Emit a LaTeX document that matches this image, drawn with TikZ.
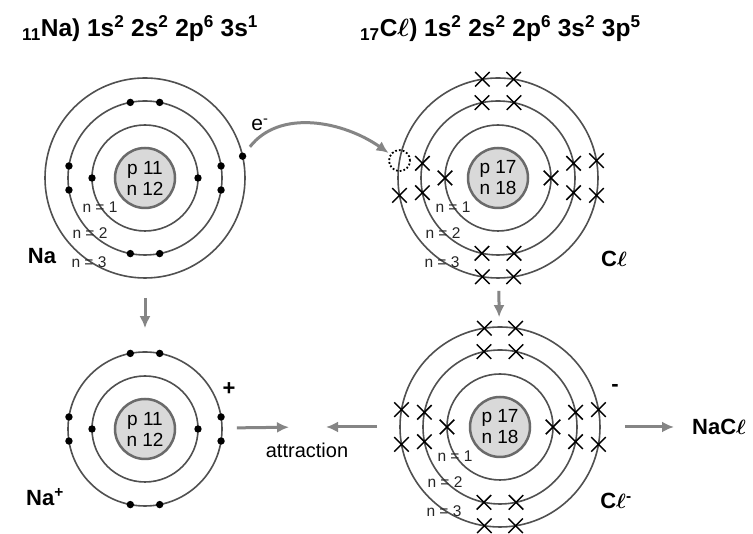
\documentclass[tikz,border=0pt]{standalone}
\usepackage{fontspec}
\setmainfont{Liberation Sans}
\usetikzlibrary{shapes.misc,arrows.meta}
\definecolor{shellgray}{HTML}{505050}
\definecolor{coregray}{HTML}{6A6A6A}
\definecolor{corefill}{HTML}{D9D9D9}
\definecolor{arrowgray}{HTML}{858585}
\newcommand\chl{C{\boldmath$\ell$}}

\begin{document}
\begin{tikzpicture}[x=1pt,y=1pt,
  shell/.style = {circle,draw=shellgray,line width=1.6pt,inner sep=0pt},
  nucleus/.style = {circle,draw=coregray,fill=corefill,line width=2.5pt,
        minimum size=60pt,inner sep=0pt,align=center,
        font=\fontsize{19}{21}\selectfont},
  level/.style = {font=\fontsize{15.5}{16}\selectfont,text=black!85,inner sep=0pt},
  dot/.style = {circle,fill=black,inner sep=0pt,minimum size=7.4pt},
  xmark/.style = {cross out,draw=black,line width=1.5pt,inner sep=0pt,
        minimum size=13pt},
  hole/.style = {circle,draw,dotted,line width=1.8pt,inner sep=0pt,
        minimum size=21pt},
  config/.style = {font=\bfseries\fontsize{24.5}{26}\selectfont,inner sep=0pt},
  atomname/.style = {font=\bfseries\fontsize{22}{24}\selectfont,inner sep=0pt},
  flow/.style = {draw=arrowgray,line width=3pt,-{Latex[length=12pt,width=11pt]}}]
 \path[fill=white,use as bounding box] (0,0) rectangle (753,534);

 % electron configurations
 \node[config,anchor=base west] (cfg-na) at (22,497)
   {\textsubscript{11}Na) 1s\textsuperscript{2} 2s\textsuperscript{2}
    2p\textsuperscript{6} 3s\textsuperscript{1}};
 \node[config,anchor=base west] (cfg-cl) at (360,497)
   {\textsubscript{17}\chl) 1s\textsuperscript{2} 2s\textsuperscript{2}
    2p\textsuperscript{6} 3s\textsuperscript{2} 3p\textsuperscript{5}};

 % sodium atom
 \node[nucleus] (na) at (145,356) {p 11\\n 12};
 \node[shell,minimum size=106pt] (na-1) at (na.center) {};
 \node[shell,minimum size=154pt] (na-2) at (na.center) {};
 \node[shell,minimum size=200pt] (na-3) at (na.center) {};
 \foreach \a in {0,180} \fill ([shift={(\a:53)}]na.center) circle (3.7);
 \foreach \a in {9,-9,79,101,171,189,259,281}
   \fill ([shift={(\a:77)}]na.center) circle (3.7);
 \node[dot] (na-e) at ([shift={(12.6:100)}]na.center) {};
 \node[level] (na-n1) at ([shift={(-45,-29)}]na.center) {n = 1};
 \node[level] (na-n2) at ([shift={(-55,-55)}]na.center) {n = 2};
 \node[level] (na-n3) at ([shift={(-56,-84)}]na.center) {n = 3};
 \node[atomname] (na-name) at (42,278) {Na};

 % chlorine atom
 \node[nucleus] (cl) at (498,356) {p 17\\n 18};
 \node[shell,minimum size=106pt] (cl-1) at (cl.center) {};
 \node[shell,minimum size=154pt] (cl-2) at (cl.center) {};
 \node[shell,minimum size=200pt] (cl-3) at (cl.center) {};
 \foreach \a [count=\i] in {0,180}
   \node[xmark] (cl-1x\i) at ([shift={(\a:53)}]cl.center) {};
 \foreach \a [count=\i] in {11,-11,78,102,169,191,258,282}
   \node[xmark] (cl-2x\i) at ([shift={(\a:77)}]cl.center) {};
 \foreach \a [count=\i] in {10,-10,81,99,190,261,279}
   \node[xmark] (cl-3x\i) at ([shift={(\a:100)}]cl.center) {};
 \node[hole] (cl-hole) at ([shift={(170:100)}]cl.center) {};
 \node[level] (cl-n1) at ([shift={(-45,-29)}]cl.center) {n = 1};
 \node[level] (cl-n2) at ([shift={(-55,-55)}]cl.center) {n = 2};
 \node[level] (cl-n3) at ([shift={(-56,-84)}]cl.center) {n = 3};
 \node[atomname] (cl-name) at (614,275) {\chl};

 % sodium ion
 \node[nucleus] (nai) at (145,105) {p 11\\n 12};
 \node[shell,minimum size=106pt] (nai-1) at (nai.center) {};
 \node[shell,minimum size=154pt] (nai-2) at (nai.center) {};
 \foreach \a in {0,180} \fill ([shift={(\a:53)}]nai.center) circle (3.7);
 \foreach \a in {9,-9,79,101,171,189,259,281}
   \fill ([shift={(\a:77)}]nai.center) circle (3.7);
 \node[atomname] (nai-sign) at (229,145) {+};
 \node[atomname] (nai-name) at (45,37) {Na\textsuperscript{+}};

 % chloride ion
 \node[nucleus] (cli) at (500,107) {p 17\\n 18};
 \node[shell,minimum size=106pt] (cli-1) at (cli.center) {};
 \node[shell,minimum size=154pt] (cli-2) at (cli.center) {};
 \node[shell,minimum size=200pt] (cli-3) at (cli.center) {};
 \foreach \a [count=\i] in {0,180}
   \node[xmark] (cli-1x\i) at ([shift={(\a:53)}]cli.center) {};
 \foreach \a [count=\i] in {11,-11,78,102,169,191,258,282}
   \node[xmark] (cli-2x\i) at ([shift={(\a:77)}]cli.center) {};
 \foreach \a [count=\i] in {10,-10,81,99,170,190,261,279}
   \node[xmark] (cli-3x\i) at ([shift={(\a:100)}]cli.center) {};
 \node[level] (cli-n1) at ([shift={(-45,-29)}]cli.center) {n = 1};
 \node[level] (cli-n2) at ([shift={(-55,-55)}]cli.center) {n = 2};
 \node[level] (cli-n3) at ([shift={(-56,-84)}]cli.center) {n = 3};
 \node[atomname] (cli-sign) at (615,146) {-};
 \node[atomname] (cli-name) at (616,33) {\chl\textsuperscript{-}};

 \node[atomname,anchor=west] (nacl) at (692,107) {Na\chl};
 \coordinate (meet) at (307,107);
 \node[font=\fontsize{20}{22}\selectfont] (attr) at (307,84) {attraction};
 \node[font=\fontsize{21}{22}\selectfont] (e-label) at (260,409)
   {e\textsuperscript{-}};

 \begin{scope}[flow]
  \path (na-e) edge[out=52,in=145,shorten <=8pt,shorten >=2pt] (cl-hole);
  \path (na-3) edge[shorten <=19pt,shorten >=23pt] (nai-2);
  \path (cl-3) edge[shorten <=12pt,shorten >=9pt] (cli-3);
  \path (nai-2) edge[shorten <=14pt,shorten >=18pt] (meet);
  \path (cli-3) edge[shorten <=22pt,shorten >=19pt] (meet);
  \path (cli-3) edge[shorten <=24pt,shorten >=18pt] (nacl);
 \end{scope}
\end{tikzpicture}
\end{document}
